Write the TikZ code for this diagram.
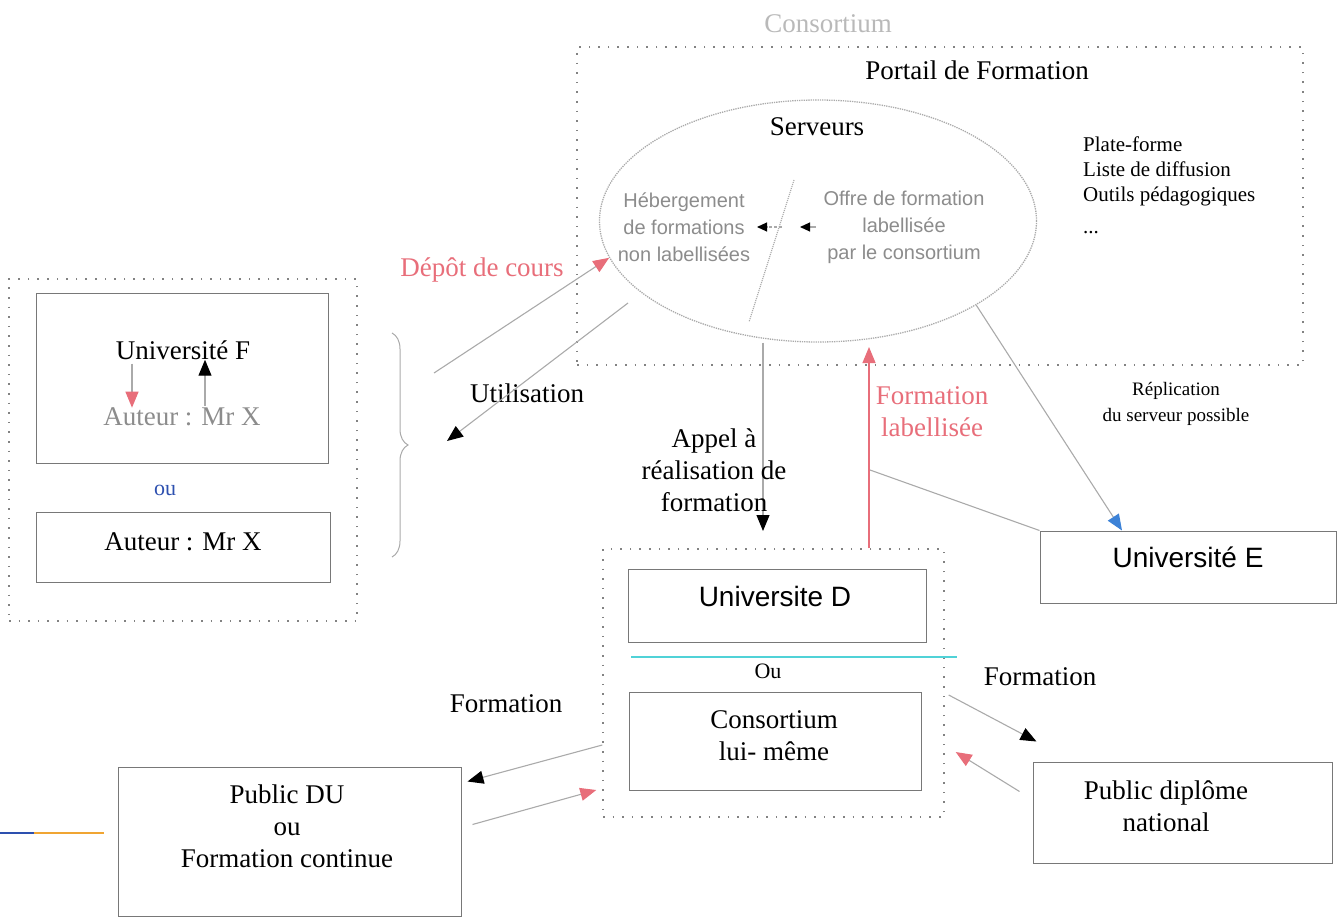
\documentclass[tikz,border=0pt]{standalone}
\usepackage{fontspec}
\setmainfont{Liberation Serif}
\setsansfont{Liberation Sans}
\usepackage{tikz}
\usetikzlibrary{shapes.geometric,arrows.meta,decorations.pathreplacing}

\definecolor{boxgrey}{RGB}{120,120,120}
\definecolor{dotgrey}{RGB}{130,130,130}
\definecolor{linegrey}{RGB}{170,170,170}
\definecolor{txtgrey}{RGB}{140,140,140}
\definecolor{palegrey}{RGB}{185,185,185}
\definecolor{pinkred}{RGB}{232,110,122}
\definecolor{arrblue}{RGB}{60,130,215}
\definecolor{oublue}{RGB}{45,80,175}
\definecolor{cyanline}{RGB}{80,210,215}
\definecolor{orangeline}{RGB}{240,165,50}

\begin{document}
\begin{tikzpicture}[x=1pt, y=-1pt,
    boite/.style={draw=boxgrey, line width=1pt, inner sep=0pt},
    cadre/.style={draw=dotgrey, dash pattern=on 1.6pt off 8pt, line width=1.4pt, inner sep=0pt},
    txt/.style={inner sep=0pt, align=center, font=\fontsize{27}{32}\selectfont},
    petit/.style={inner sep=0pt, align=left, font=\fontsize{21}{25}\selectfont},
    grisans/.style={inner sep=0pt, align=center, text=txtgrey, font=\sffamily\fontsize{20}{27}\selectfont},
    sanstitre/.style={inner sep=0pt, font=\sffamily\fontsize{28}{32}\selectfont},
    fil/.style={draw=linegrey, line width=1.1pt},
    noire/.style={fil, -{Triangle[length=16pt,width=13pt,color=black]}},
    rouge/.style={fil, -{Triangle[length=16pt,width=13pt,color=pinkred]}},
    bleue/.style={fil, -{Triangle[length=16pt,width=13pt,color=arrblue]}},
  ]

    \useasboundingbox (0,0) rectangle (1338,918);

    \node [txt, text=palegrey] (consTitre) at (828,24) {Consortium};
    \node [cadre, minimum width=726pt, minimum height=318pt] (portail) at (940,206) {};
    \node [txt] (portailTitre) at (977,70) {Portail de Formation};

    \node [ellipse, draw=linegrey, densely dotted, line width=1.3pt, inner sep=0pt,
           minimum width=437pt, minimum height=242pt] (serveurs) at (818,221) {};
    \node [txt] (serveursTitre) at (817,127) {Serveurs};
    \node [grisans] (heberg) at (684,227) {Hébergement\\de formations\\non labellisées};
    \node [grisans] (offre) at (904,227) {Offre de formation\\labellisée\\par le consortium};
    \node [petit, anchor=north west] (outils) at (1083,137)
          {Plate-forme\\Liste de diffusion\\Outils pédagogiques\\[7pt]...};

    \coordinate (coupeHaut) at (794,180);
    \coordinate (coupeBas) at (749,322);
    \draw [fil, densely dotted] (coupeHaut) -- (coupeBas);
    \coordinate (echA) at (782,227);
    \coordinate (echB) at (757,227);
    \coordinate (echC) at (816,227);
    \coordinate (echD) at (800,227);
    \draw [fil, densely dashed, -{Triangle[length=10pt,width=9pt,color=black]}] (echA) -- (echB);
    \draw [fil, -{Triangle[length=10pt,width=9pt,color=black]}] (echC) -- (echD);

    \node [cadre, minimum width=348pt, minimum height=342pt] (gauche) at (183,450) {};
    \node [boite, minimum width=292pt, minimum height=170pt] (univF) at (182,378) {};
    \node [txt] (univFtxt) at (183,350) {Université F};
    \node [txt, text=txtgrey] (auteurF) at (182,417) {Auteur : Mr X};
    \coordinate (fG) at (132,0);
    \coordinate (fD) at (205,0);
    \draw [rouge, shorten <=4pt] (univFtxt.south -| fG) -- (auteurF.north -| fG);
    \draw [noire, shorten <=2pt] (auteurF.north -| fD) -- (univFtxt.south -| fD);
    \node [txt, text=oublue, font=\fontsize{22}{26}\selectfont] (ouF) at (165,490) {ou};
    \node [boite, minimum width=294pt, minimum height=70pt] (auteurBox) at (183,547) {};
    \node [txt] (auteurTxt) at (183,542) {Auteur : Mr X};

    \coordinate (accHaut) at (392,333);
    \coordinate (accBas) at (392,557);
    \draw [fil, line width=1pt, decorate, decoration={brace, amplitude=16pt}] (accHaut) -- (accBas);

    \node [txt, text=pinkred] (depot) at (482,270) {Dépôt de cours};
    \coordinate (depotDep) at (434,373);
    \draw [rouge] (depotDep) -- (serveurs.190);
    \node [txt] (utilTxt) at (527,393) {Utilisation};
    \coordinate (utilDep) at (628,303);
    \coordinate (utilFin) at (447,441);
    \draw [noire] (utilDep) -- (utilFin);

    \node [cadre, minimum width=341pt, minimum height=268pt] (dOuter) at (773.5,683) {};
    \node [boite, minimum width=298pt, minimum height=73pt] (univD) at (777,605.5) {};
    \node [sanstitre] (univDtxt) at (775,596) {Universite D};
    \coordinate (cyanG) at (631,657);
    \coordinate (cyanD) at (957,657);
    \draw [cyanline, line width=1.3pt] (cyanG) -- (cyanD);
    \node [txt, font=\fontsize{22}{26}\selectfont] (ouD) at (768,671) {Ou};
    \node [boite, minimum width=292pt, minimum height=98pt] (consBox) at (775,741) {};
    \node [txt] (consTxt) at (774,736) {Consortium\\lui- même};

    \coordinate (appelFin) at (763,531);
    \draw [noire] (serveurs.south -| appelFin) -- (appelFin);
    \node [txt] (appel) at (714,470) {Appel à\\réalisation de\\formation};

    \coordinate (labHaut) at (869,347);
    \draw [rouge, draw=pinkred] (labHaut |- dOuter.north) -- (labHaut);
    \node [txt, text=pinkred] (labTxt) at (932,412) {Formation\\labellisée};

    \node [boite, minimum width=296pt, minimum height=72pt] (univE) at (1188,567) {};
    \node [sanstitre] (univEtxt) at (1188,557) {Université E};
    \coordinate (labMilieu) at (870,470);
    \draw [fil] (labMilieu) -- (univE.north west);
    \draw [bleue] (serveurs.-28) -- ([xshift=-66pt]univE.north);
    \node [txt, font=\fontsize{19}{26}\selectfont] (replic) at (1176,404) {Réplication\\du serveur possible};

    \node [boite, minimum width=343pt, minimum height=149pt] (pubDU) at (289.5,841.5) {};
    \node [txt] (pubDUtxt) at (287,826) {Public DU\\ou\\Formation continue};
    \node [boite, minimum width=299pt, minimum height=101pt] (pubDN) at (1182.5,812.5) {};
    \node [txt] (pubDNtxt) at (1166,806) {Public diplôme\\national};
    \node [txt] (formG) at (506,704) {Formation};
    \node [txt] (formD) at (1040,677) {Formation};

    \draw [noire] ([yshift=-62pt]dOuter.west) -- ([xshift=6pt,yshift=-15pt]pubDU.north east);
    \draw [rouge] ([xshift=11pt,yshift=-58pt]pubDU.north east) -- ([xshift=-6pt,yshift=-107pt]dOuter.west);
    \draw [noire] ([xshift=4pt,yshift=-12pt]dOuter.east) -- ([xshift=4pt,yshift=20pt]pubDN.north west);
    \draw [rouge] ([xshift=-13pt,yshift=-30pt]pubDN.north west) -- ([xshift=11pt,yshift=-69pt]dOuter.east);

    \coordinate (traitA) at (0,833);
    \coordinate (traitB) at (34,833);
    \coordinate (traitC) at (104,833);
    \draw [oublue, line width=2pt] (traitA) -- (traitB);
    \draw [orangeline, line width=2pt] (traitB) -- (traitC);

\end{tikzpicture}
\end{document}
